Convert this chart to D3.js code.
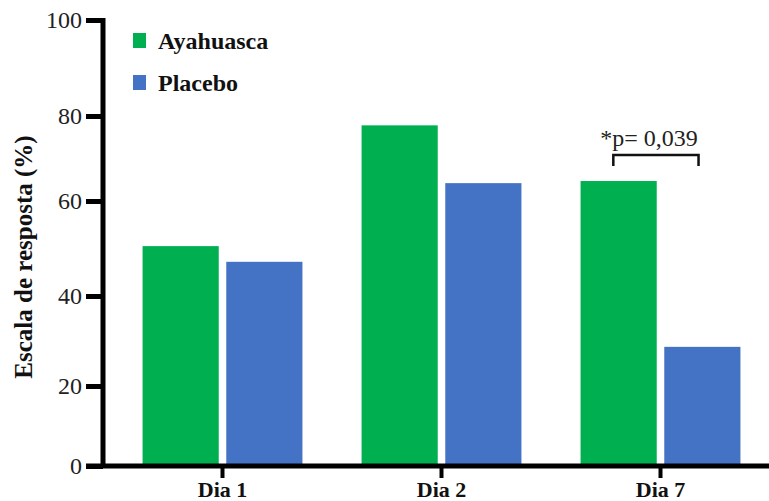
<!DOCTYPE html>
<html>
<head>
<meta charset="utf-8">
<script src="https://cdn.jsdelivr.net/npm/d3@7"></script>
<style>
  body { margin: 0; background: #fff; }
  svg { display: block; font-family: "Liberation Serif", "Times New Roman", serif; }
</style>
</head>
<body>
<svg id="svg" width="769" height="501"></svg>
<script>
// data
var days = ["Dia 1", "Dia 2", "Dia 7"],
  series = ["Ayahuasca", "Placebo"],
  ayahuasca = [50.5, 77.8, 64.7],
  placebo = [47.2, 64.2, 28.7],
  yTicks = [0, 20, 40, 60, 80, 100],
  colors = ["#00b050", "#4472c4"];

var svg = d3.select("#svg");

// the source axis is slightly uneven, so map each tick to where it sits
var y = d3
  .scaleLinear()
  .domain(yTicks)
  .range([466, 386, 296, 201, 116, 20]);

var x0 = d3
  .scaleBand()
  .domain(days)
  .range([113, 770])
  .paddingInner(0.27)
  .paddingOuter(0.135);

var x1 = d3
  .scaleBand()
  .domain(series)
  .range([0, x0.bandwidth()])
  .paddingInner(0.09);

var color = d3.scaleOrdinal().domain(series).range(colors);

var rows = days.map(function (d, i) {
  return { day: d, values: [ayahuasca[i], placebo[i]] };
});

// bars
svg
  .append("g")
  .selectAll("g")
  .data(rows)
  .join("g")
  .attr("transform", function (d) {
    return "translate(" + x0(d.day) + ",0)";
  })
  .selectAll("rect")
  .data(function (d) {
    return series.map(function (s, j) {
      return { key: s, value: d.values[j] };
    });
  })
  .join("rect")
  .attr("x", function (d) { return x1(d.key); })
  .attr("y", function (d) { return y(d.value); })
  .attr("width", x1.bandwidth())
  .attr("height", function (d) { return y(0) - y(d.value); })
  .attr("fill", function (d) { return color(d.key); });

// y axis
var yAxis = svg
  .append("g")
  .attr("transform", "translate(103,0)")
  .call(d3.axisLeft(y).tickValues(yTicks).tickSize(17).tickPadding(4).tickSizeOuter(0));
yAxis.select(".domain").attr("stroke-width", 5).attr("d", "M0," + (y(100) - 2) + "V" + y(0));
yAxis.selectAll(".tick line").attr("stroke-width", 5);
yAxis
  .selectAll(".tick text")
  .attr("font-size", 24)
  .attr("font-family", "Liberation Serif")
  .attr("fill", "#222");

// x axis
var xAxis = svg
  .append("g")
  .attr("transform", "translate(0," + y(0) + ")")
  .call(d3.axisBottom(x0).tickSize(12).tickPadding(3).tickSizeOuter(0));
xAxis.select(".domain").attr("stroke-width", 5).attr("d", "M86,0H769");
xAxis.selectAll(".tick line").attr("stroke-width", 4);
xAxis
  .selectAll(".tick text")
  .attr("font-size", 22)
  .attr("font-weight", "bold")
  .attr("font-family", "Liberation Serif")
  .attr("fill", "#111");

// y label
svg
  .append("text")
  .attr("transform", "translate(32,257) rotate(-90)")
  .attr("text-anchor", "middle")
  .attr("font-size", 25)
  .attr("font-weight", "bold")
  .attr("fill", "#111")
  .text("Escala de resposta (%)");

// legend
var legend = svg
  .append("g")
  .selectAll("g")
  .data(series)
  .join("g")
  .attr("transform", function (d, i) {
    return "translate(133," + (33 + i * 42) + ")";
  });
legend
  .append("rect")
  .attr("width", 13)
  .attr("height", 15)
  .attr("fill", function (d) { return color(d); });
legend
  .append("text")
  .attr("x", 25)
  .attr("y", 16)
  .attr("font-size", 24)
  .attr("font-weight", "bold")
  .attr("fill", "#111")
  .text(function (d) { return d; });

// significance bracket over Dia 7
var bx0 = x0("Dia 7") + x1("Ayahuasca") + x1.bandwidth() * 0.43,
  bx1 = x0("Dia 7") + x1("Placebo") + x1.bandwidth() * 0.45,
  by = y(100) + 135;
svg
  .append("path")
  .attr("d", "M" + bx0 + "," + (by + 11) + "V" + by + "H" + bx1 + "V" + (by + 11))
  .attr("fill", "none")
  .attr("stroke", "#111")
  .attr("stroke-width", 2.5);
svg
  .append("text")
  .attr("x", bx0 - 13)
  .attr("y", by - 9)
  .attr("font-size", 24)
  .attr("fill", "#222")
  .text("*p= 0,039");
</script>
</body>
</html>
